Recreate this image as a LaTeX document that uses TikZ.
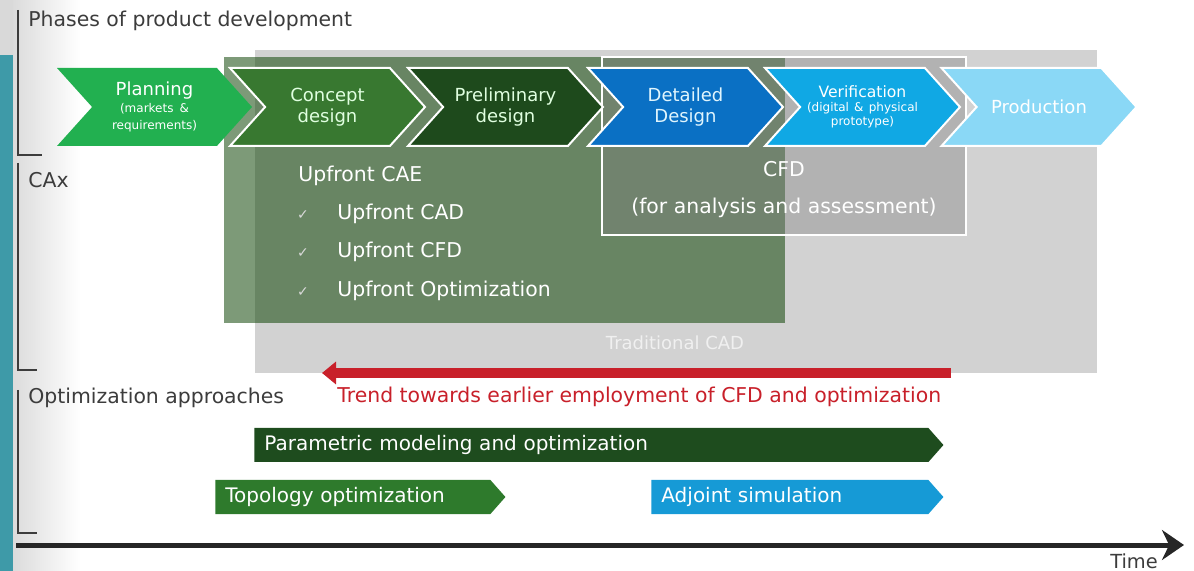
\documentclass[tikz,border=0pt]{standalone}
\usepackage{fontspec}
\setmainfont{DejaVu Sans}
\usetikzlibrary{arrows.meta,positioning,shapes.symbols}

\definecolor{planGreen}{RGB}{34,176,80}
\definecolor{conceptGreen}{RGB}{56,120,48}
\definecolor{prelimGreen}{RGB}{30,74,28}
\definecolor{detailBlue}{RGB}{10,112,196}
\definecolor{verifBlue}{RGB}{16,168,228}
\definecolor{prodBlue}{RGB}{138,216,246}
\definecolor{caeGreen}{RGB}{18,71,9}
\definecolor{tradGray}{RGB}{210,210,210}
\definecolor{trendRed}{RGB}{200,32,42}
\definecolor{paramGreen}{RGB}{30,76,30}
\definecolor{topoGreen}{RGB}{46,122,44}
\definecolor{adjBlue}{RGB}{22,154,214}
\definecolor{labelGray}{RGB}{60,60,60}
\definecolor{leftTeal}{RGB}{62,154,168}

\newcommand{\subfont}{\fontsize{6}{6.5}\selectfont}

\begin{document}
\begin{tikzpicture}[
  x=0.5pt, y=-0.5pt,
  phase/.style={signal, signal from=west, signal to=east, signal pointer angle=96,
    minimum width=97.5pt, minimum height=39pt, inner sep=0pt, align=center,
    text width=62pt, font=\fontsize{9}{10.5}\selectfont},
  approach/.style={signal, signal to=east, signal pointer angle=97, minimum height=17pt,
    inner xsep=5pt, inner ysep=0pt, anchor=west, align=left, text=white,
    font=\fontsize{10}{12}\selectfont},
  caption/.style={anchor=west, inner sep=0pt, text=labelGray, font=\fontsize{10.2}{12}\selectfont},
  inbox/.style={inner sep=0pt, text=white, font=\fontsize{10.2}{12}\selectfont},
  tick/.style={inner sep=0pt, text=white!85!black, font=\fontsize{7}{8}\selectfont},
  bracket/.style={draw=labelGray, line width=0.8pt}
]
  \useasboundingbox (0,0) rectangle (1194,571);

  % screen edge on the left
  \fill[gray!30] (0,0) rectangle (13,55);
  \fill[leftTeal] (0,55) rectangle (13,571);
  \shade[left color=gray!28, right color=white] (13,0) rectangle (80,571);

  % CAx areas
  \fill[tradGray] (255,50) rectangle (1097,373);
  \fill[caeGreen, opacity=0.55] (224,57) rectangle (785,323);
  \draw[white, line width=1pt, fill=gray, fill opacity=0.38] (602,57) rectangle (966,235);

  % phases
  \node[phase, fill=planGreen, text=white] (planning) at (154.5,107)
    {Planning\\[-2pt]{\subfont (markets \&}\\[-2pt]{\subfont requirements)}};
  \node[phase, fill=conceptGreen, draw=white, line width=1pt, text=white!88!green] (concept) at (327.5,107)
    {Concept\\design};
  \node[phase, fill=prelimGreen, draw=white, line width=1pt, text=white!88!green] (prelim) at (505.5,107)
    {Preliminary\\design};
  \node[phase, fill=detailBlue, draw=white, line width=1pt, text=white!88!cyan] (detailed) at (685.5,107)
    {Detailed\\Design};
  \node[phase, fill=verifBlue, draw=white, line width=1pt, text=white, font=\fontsize{7.8}{8}\selectfont] (verif) at (862.5,107)
    {Verification\\[-1pt]{\subfont (digital \& physical}\\[-1pt]{\subfont prototype)}};
  \node[phase, fill=prodBlue, draw=white, line width=1pt, text=white] (prod) at (1039,107)
    {Production};

  % texts in the CAx areas
  \node[inbox, anchor=west] (cae) at (298,176) {Upfront CAE};
  \node[inbox, anchor=west] (cad) at (337,214) {Upfront CAD};
  \node[inbox, anchor=west] (cfdup) at (337,252) {Upfront CFD};
  \node[inbox, anchor=west] (optup) at (337,291) {Upfront Optimization};
  \node[tick] (tickcad) at (303,215) {✓};
  \node[tick] (tickcfd) at (303,253) {✓};
  \node[tick] (tickopt) at (303,292) {✓};
  \node[inbox] (cfd) at (784,169) {CFD};
  \node[inbox] (cfdsub) at (784,208) {(for analysis and assessment)};
  \node[inbox, text=white!94!black, font=\fontsize{9}{11}\selectfont] (trad) at (675,343) {Traditional CAD};

  % trend
  \coordinate (trendR) at (951,373);
  \coordinate (trendL) at (322,373);
  \draw[trendRed, line width=5pt, -{Triangle[length=7pt,width=11pt]}] (trendR) -- (trendL);
  \node[inbox, text=trendRed, anchor=west] (trend) at (337,397)
    {Trend towards earlier employment of CFD and optimization};

  % optimization approaches
  \node[approach, fill=paramGreen, text width=327pt] (param) at (254,445)
    {Parametric modeling and optimization};
  \node[approach, fill=topoGreen, text width=127.5pt] (topo) at (215,497)
    {Topology optimization};
  \node[approach, fill=adjBlue, text width=128.5pt] (adjoint) at (651,497)
    {Adjoint simulation};

  % row labels and brackets
  \node[caption] (phases) at (28,21) {Phases of product development};
  \node[caption] (cax) at (28,180) {CAx};
  \node[caption] (optapp) at (28,398) {Optimization approaches};
  \draw[bracket] (18,10) -- (18,155) -- (42,155);
  \draw[bracket] (18,163) -- (18,370) -- (37,370);
  \draw[bracket] (18,390) -- (18,533) -- (37,533);

  % time axis
  \coordinate (tStart) at (16,545);
  \coordinate (tEnd) at (1184,545);
  \draw[black!85, line width=2.5pt, -{Stealth[length=11pt,width=15pt]}] (tStart) -- (tEnd);
  \node[inner sep=0pt, text=labelGray, font=\fontsize{9.7}{11}\selectfont] (time) at (1134,561) {Time};
\end{tikzpicture}
\end{document}
